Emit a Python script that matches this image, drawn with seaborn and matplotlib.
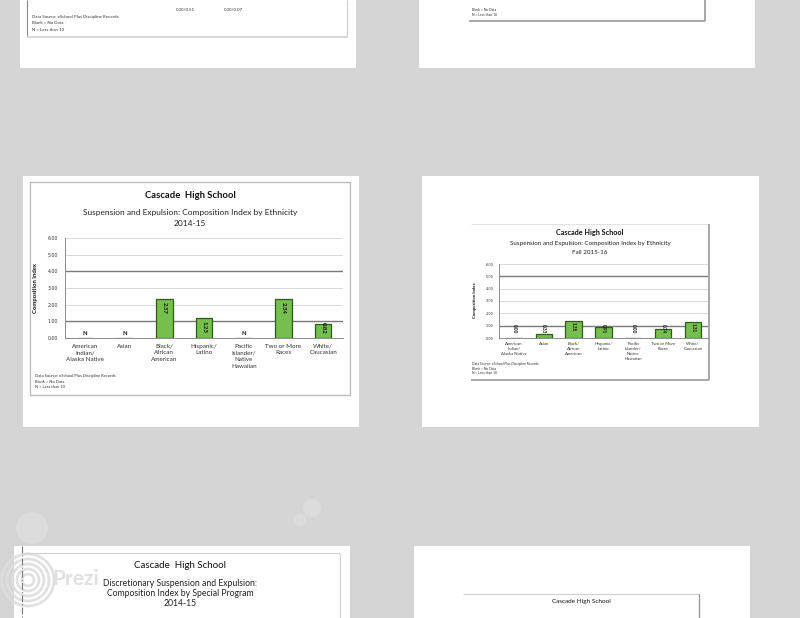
import numpy as np
import pandas as pd
import seaborn as sns
import matplotlib.pyplot as plt
from matplotlib.patches import Rectangle, Circle

# Data
categories = ["American\nIndian/\nAlaska Native", "Asian", "Black/\nAfrican\nAmerican",
              "Hispanic/\nLatino", "Pacific\nIslander/\nNative\nHawaiian",
              "Two or More\nRaces", "White/\nCaucasian"]
index_1415 = [0.0, 0.0, 2.37, 1.23, 0.0, 2.34, 0.82]
labels_1415 = ["N", "N", "2.37", "1.23", "N", "2.34", "0.82"]
index_1516 = [0.00, 0.33, 1.38, 0.91, 0.00, 0.74, 1.31]
labels_1516 = ["0.00", "0.33", "1.38", "0.91", "0.00", "0.74", "1.31"]
y_ticks = [0, 1, 2, 3, 4, 5, 6]
source_lines = ["Data Source: eSchool Plus Discipline Records", "Blank = No Data", "N = Less than 10"]

sns.set_style("white")
plt.rcParams['font.family'] = ['Lato', 'DejaVu Sans']

W, H = 800, 618
fig = plt.figure(figsize=(8, 6.18), dpi=100)
fig.patch.set_facecolor("#d5d5d5")

# full-canvas axes in pixel units for the slide panels and loose text
bg = fig.add_axes([0, 0, 1, 1], zorder=0)
bg.set_xlim(0, W)
bg.set_ylim(H, 0)
bg.axis("off")

# faint bokeh blobs on the background
for cx, cy, r in [(32, 528, 16), (312, 508, 9), (300, 520, 6)]:
    bg.add_patch(Circle((cx, cy), r, color="white", alpha=0.18, lw=0))

# white slide panels
for x0, y0, x1, y1 in [(20, -2, 356, 68), (419, -2, 755, 68),
                       (23, 176, 359, 427), (422, 176, 759, 427),
                       (14, 546, 350, 620), (414, 546, 750, 620)]:
    bg.add_patch(Rectangle((x0, y0), x1 - x0, y1 - y0, color="white", lw=0))


def line(x, y, c="#bdbdbd", lw=0.8, ls="-"):
    bg.plot(x, y, color=c, lw=lw, ls=ls, solid_capstyle="butt")


# chart frames inside the panels
line([27, 27], [0, 37], "#8a8a8a")
line([27, 347], [37, 37], "#cfcfcf", 1.2)
line([347, 347], [0, 37], "#cfcfcf")
line([469, 705], [21, 21], "#9a9a9a", 1.2)
line([705, 705], [0, 21], "#9a9a9a", 1.2)
line([30, 350, 350, 30, 30], [182, 182, 395, 395, 182], "#bdbdbd", 1.0)
line([471, 709], [224, 224], "#e2e2e2")
line([709, 709], [224, 380], "#9a9a9a", 1.2)
line([471, 709], [380, 380], "#9a9a9a", 1.2)
line([22, 340], [553, 553], "#d0d0d0")
line([340, 340], [553, 620], "#d0d0d0")
line([22, 22], [546, 620], "#777777", 0.8, (0, (6, 2, 1, 2)))
line([463, 699], [594, 594], "#cfcfcf")
line([699, 699], [594, 620], "#9a9a9a", 1.0)

# remnants of the slides cut off at top and bottom
bg.text(176, 10, "0.00/0.51", fontsize=3.2, color="#333333", ha="left", va="center")
bg.text(224, 10, "0.00/0.07", fontsize=3.2, color="#333333", ha="left", va="center")
for i, s in enumerate(source_lines):
    bg.text(32, 17 + 6.5 * i, s, fontsize=3.2, color="#333333", va="center")
for i, s in enumerate(source_lines[1:]):
    bg.text(472, 10 + 5 * i, s, fontsize=2.4, color="#333333", va="center")

bg.text(180, 565, "Cascade  High School", fontsize=7, ha="center", va="center", color="#111111")
bg.text(180, 583, "Discretionary Suspension and Expulsion:", fontsize=6.2, ha="center",
        va="center", color="#222222")
bg.text(180, 593, "Composition Index by Special Program", fontsize=6.2, ha="center",
        va="center", color="#222222")
bg.text(180, 603, "2014-15", fontsize=6.2, ha="center", va="center", color="#222222")
bg.text(581, 602, "Cascade High School", fontsize=4.6, ha="center", va="center", color="#111111")

# Prezi watermark
for r in [26, 21, 16, 11, 6]:
    bg.add_patch(Circle((28, 580), r, fill=False, ec="#dedede", lw=2.0, alpha=0.9))
bg.text(52, 579, "Prezi", fontsize=15, fontweight="bold", color="#e0e0e0", va="center",
        ha="left", alpha=0.95)


def draw_chart(box, values, labels, dark_lines, bar_width, sizes, label_rule):
    x0, y0, x1, y1 = box
    ax = fig.add_axes([x0 / W, 1 - y1 / H, (x1 - x0) / W, (y1 - y0) / H], zorder=2)
    ax.set_facecolor("none")
    df = pd.DataFrame({"group": categories, "index": values})
    sns.barplot(data=df, x="group", y="index", order=categories, color="#76bf4e",
                saturation=1, edgecolor="#2e5c1b", linewidth=0.9, width=bar_width,
                ax=ax, zorder=3)
    for yv in y_ticks:
        dark = yv in dark_lines
        ax.axhline(yv, color="#7a7a7a" if dark else "#d9d9d9", lw=1.0 if dark else 0.7, zorder=1)
    ax.set_ylim(0, 6)
    ax.set_xlim(-0.5, len(categories) - 0.5)
    ax.set_yticks(y_ticks)
    ax.set_yticklabels([f"{v:.2f}" for v in y_ticks], fontsize=sizes["tick"], color="#333333",
                       family=["DejaVu Sans"])
    ax.set_xticks(range(len(categories)))
    ax.set_xticklabels(categories, fontsize=sizes["cat"], color="#333333",
                       linespacing=sizes["spacing"])
    ax.set_xticks(np.arange(-0.5, len(categories)), minor=True)
    ax.tick_params(axis="x", which="major", length=0, pad=sizes["pad"])
    ax.tick_params(axis="x", which="minor", length=2, width=0.5, color="#888888")
    ax.tick_params(axis="y", length=2, width=0.5, color="#888888", pad=sizes["ypad"])
    ax.set_xlabel("")
    ax.set_ylabel("")
    for side in ["top", "right"]:
        ax.spines[side].set_visible(False)
    for side in ["left", "bottom"]:
        ax.spines[side].set_color("#8c8c8c")
        ax.spines[side].set_linewidth(0.7)
    for i, (v, lab) in enumerate(zip(values, labels)):
        if lab == "N":
            ax.text(i, 0.3, lab, ha="center", va="center", fontsize=sizes["bar"],
                    fontweight="bold", color="#111111", zorder=5)
        else:
            ax.text(i, label_rule(v), lab, ha="center", va="center", rotation=-90,
                    fontsize=sizes["bar"], fontweight="bold", color="#111111", zorder=5)
    return ax


# Slide: 2014-15
draw_chart((65, 238, 343, 338), index_1415, labels_1415, [1, 4], 0.42,
           {"tick": 3.4, "cat": 4.5, "spacing": 1.45, "pad": 4, "ypad": 3, "bar": 4.3},
           lambda v: max(v - 0.55, 0.6))
bg.text(190, 195, "Cascade  High School", fontsize=6.8, fontweight="bold", ha="center",
        va="center", color="#111111")
bg.text(190, 212, "Suspension and Expulsion: Composition Index by Ethnicity", fontsize=6.0,
        ha="center", va="center", color="#222222")
bg.text(190, 224, "2014-15", fontsize=6.0, ha="center", va="center", color="#222222")
bg.text(36, 288, "Composition Index", fontsize=4.2, fontweight="bold", rotation=90,
        ha="center", va="center", color="#111111")
for i, s in enumerate(source_lines):
    bg.text(35, 376 + 5.6 * i, s, fontsize=3.0, color="#333333", va="center")

# Slide: Fall 2015-16
draw_chart((499, 264, 708, 338), index_1516, labels_1516, [1, 5], 0.55,
           {"tick": 2.5, "cat": 3.1, "spacing": 1.35, "pad": 3, "ypad": 2, "bar": 3.3},
           lambda v: max(v - 0.45, 0.75))
bg.text(590, 233, "Cascade High School", fontsize=5.2, fontweight="bold", ha="center",
        va="center", color="#111111")
bg.text(590, 244, "Suspension and Expulsion: Composition Index by Ethnicity", fontsize=4.5,
        ha="center", va="center", color="#222222")
bg.text(590, 253, "Fall 2015-16", fontsize=4.5, ha="center", va="center", color="#222222")
bg.text(475, 300, "Composition Index", fontsize=3.1, fontweight="bold", rotation=90,
        ha="center", va="center", color="#111111")
for i, s in enumerate(source_lines):
    bg.text(472, 364 + 4.6 * i, s, fontsize=2.4, color="#333333", va="center")

fig.savefig("out.png", dpi=100, facecolor=fig.get_facecolor())
